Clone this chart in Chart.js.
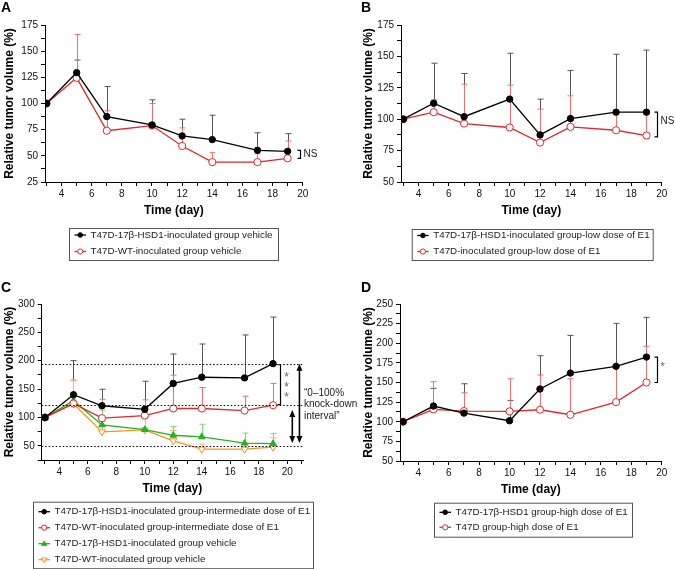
<!DOCTYPE html>
<html lang="en">
<head>
<meta charset="UTF-8">
<title>Relative tumor volume</title>
<script src="https://cdn.jsdelivr.net/npm/chart.js"></script>
<style>
    body { margin: 0; background: #fff; }
    #page { position: relative; width: 675px; height: 569px; overflow: hidden; font-family: "Liberation Sans", Arial, sans-serif; }
    .panel { position: absolute; }
    .letter { position: absolute; font-weight: bold; font-size: 14px; line-height: 14px; color: #000; }
</style>
</head>
<body>
<div id="page">
    <div class="panel" style="left:0;top:0"><canvas id="chartA" width="340" height="270"></canvas></div>
    <div class="panel" style="left:340px;top:0"><canvas id="chartB" width="335" height="270"></canvas></div>
    <div class="panel" style="left:0;top:280px"><canvas id="chartC" width="360" height="289"></canvas></div>
    <div class="panel" style="left:340px;top:280px"><canvas id="chartD" width="335" height="289"></canvas></div>
    <div class="letter" style="left:1px;top:0">A</div>
    <div class="letter" style="left:361px;top:0">B</div>
    <div class="letter" style="left:1px;top:280px">C</div>
    <div class="letter" style="left:361px;top:280px">D</div>
</div>
<script>
// ---- data ----
const days = [3, 5, 7, 10, 12, 14, 17, 19];
const xTickLabels = [4, 6, 8, 10, 12, 14, 16, 18, 20];

// A: vehicle
const aHsd1Veh    = [100, 129.5, 87.5, 79.5, 69, 65.5, 55.3, 54.3];
const aHsd1VehTop = [null, 141.5, 116.2, 103.5, 85, 88.8, 72, 71.2];
const aWtVeh      = [100, 124.5, 74, 78.9, 59.4, 44, 44, 47.6];
const aWtVehTop   = [null, 166, 93, 100, 76.7, 53, 52, 64.2];
const aYTicks = [25, 50, 75, 100, 125, 150, 175];

// B: low dose of E1
const bHsd1Low    = [100, 112.7, 102, 116, 87.5, 100.5, 105.6, 105.6];
const bHsd1LowTop = [null, 144.6, 136.4, 152.5, 116, 138.7, 151.7, 155];
const bWtLow      = [100, 105.6, 96.5, 93.4, 81.4, 93.9, 91.2, 87];
const bWtLowTop   = [null, 115.4, 127.9, 127.1, 108, 118.6, 105, 104];
const bYTicks = [50, 75, 100, 125, 150, 175];

// C: intermediate dose of E1 + vehicle
const cHsd1Mid    = [100, 140, 120.6, 114.4, 160, 170.9, 169.7, 194.9];
const cHsd1MidTop = [null, 200.2, 149.7, 163.8, 211.9, 229.5, 245.4, 277];
const cWtMid      = [100, 124.6, 98.7, 103.4, 115.8, 115.8, 112.2, 121.6];
const cWtMidTop   = [null, 165.5, 132, 131, 174.5, 152.8, 137.5, 159.8];
const cHsd1Veh    = [100, 129.6, 86.8, 78.6, 68.6, 65.7, 54.6, 54];
const cHsd1VehTop = [null, 142, 113, 101.6, 84, 88, 72.5, 71.5];
const cWtVeh      = [100, 124, 74.6, 78, 58.8, 44, 44, 47.6];
const cWtVehTop   = [null, 166, 93, 100, 77, 53, 52, 64];
const cYTicks = [50, 100, 150, 200, 250, 300];
const cLevels = [194.9, 121.6, 50.2];   // dotted reference lines

// D: high dose of E1
const dHsd1High    = [100, 120, 111, 101.3, 141.7, 162, 170.6, 182.4];
const dHsd1HighTop = [null, 142.5, 148.4, 127.2, 184.1, 210, 225.3, 233];
const dWtHigh      = [100, 115.7, 113.6, 113.2, 115.3, 108.9, 125, 150];
const dWtHighTop   = [null, 151, 137, 154.8, 159.5, 154.8, 170, 196];
const dYTicks = [50, 75, 100, 125, 150, 175, 200, 225, 250];

const FONT = '"Liberation Sans", Arial, sans-serif';
const RED = '#e3262b', GREEN = '#22b322', ORANGE = '#f7931e';

function pts(vals) {
    return days.map((d, i) => ({ x: d, y: vals[i] }));
}

// series style presets
function blackSeries(label, vals, top) {
    return { label, data: pts(vals), errTop: top, errColor: '#555',
        borderColor: '#000', backgroundColor: '#000', pointStyle: 'circle',
        pointRadius: 3.2, pointBackgroundColor: '#000', pointBorderColor: '#000', pointBorderWidth: 1 };
}
function redSeries(label, vals, top) {
    return { label, data: pts(vals), errTop: top, errColor: '#ee7070',
        borderColor: RED, backgroundColor: RED, pointStyle: 'circle',
        pointRadius: 3.6, pointBackgroundColor: '#fff', pointBorderColor: RED, pointBorderWidth: 1 };
}
function greenSeries(label, vals, top) {
    return { label, data: pts(vals), errTop: top, errColor: '#7fd67f',
        borderColor: GREEN, backgroundColor: GREEN, pointStyle: 'triangle',
        pointRadius: 3.8, pointBackgroundColor: GREEN, pointBorderColor: GREEN, pointBorderWidth: 1 };
}
function orangeSeries(label, vals, top) {
    return { label, data: pts(vals), errTop: top, errColor: '#f8b56e',
        borderColor: ORANGE, backgroundColor: ORANGE, pointStyle: 'triangle', pointRotation: 180,
        pointRadius: 4, pointBackgroundColor: '#fff', pointBorderColor: ORANGE, pointBorderWidth: 1 };
}

// small marker for the boxed legend
function drawMarker(ctx, ds, x, y, k) {
    const r = ds.pointRadius * k;
    ctx.save();
    ctx.fillStyle = ds.pointBackgroundColor;
    ctx.strokeStyle = ds.pointBorderColor;
    ctx.lineWidth = 1;
    ctx.beginPath();
    if (ds.pointStyle === 'circle') {
        ctx.arc(x, y, r, 0, Math.PI * 2);
    } else {
        const s = ds.pointRotation === 180 ? -1 : 1;
        ctx.moveTo(x, y - s * r);
        ctx.lineTo(x + r * 0.95, y + s * r * 0.6);
        ctx.lineTo(x - r * 0.95, y + s * r * 0.6);
        ctx.closePath();
    }
    ctx.fill();
    ctx.stroke();
    ctx.restore();
}

// upper error bars
const errBars = {
    id: 'errBars',
    beforeDatasetsDraw(chart) {
        const ctx = chart.ctx, xs = chart.scales.x, ys = chart.scales.y;
        ctx.save();
        ctx.lineWidth = 1;
        chart.data.datasets.forEach(ds => {
            if (!ds.errTop) return;
            ctx.strokeStyle = ds.errColor;
            ds.data.forEach((p, j) => {
                const top = ds.errTop[j];
                if (top == null) return;
                const x = Math.round(xs.getPixelForValue(p.x)) + 0.5;
                const y0 = ys.getPixelForValue(p.y), y1 = ys.getPixelForValue(top);
                ctx.beginPath();
                ctx.moveTo(x, y0); ctx.lineTo(x, y1);
                ctx.moveTo(x - 3, y1); ctx.lineTo(x + 3, y1);
                ctx.stroke();
            });
        });
        ctx.restore();
    }
};

// boxed legend under each plot
const boxLegend = {
    id: 'boxLegend',
    afterDraw(chart, args, o) {
        const ctx = chart.ctx;
        ctx.save();
        ctx.strokeStyle = '#555';
        ctx.lineWidth = 1;
        ctx.strokeRect(o.x + 0.5, o.y + 0.5, o.w, o.h);
        ctx.font = '9.8px ' + FONT;
        ctx.textBaseline = 'middle';
        chart.data.datasets.forEach((ds, i) => {
            const y = o.y + o.first + i * o.step;
            ctx.strokeStyle = ds.borderColor;
            ctx.lineWidth = 1.3;
            ctx.beginPath();
            ctx.moveTo(o.x + 5.5, y); ctx.lineTo(o.x + 17, y);
            ctx.stroke();
            drawMarker(ctx, ds, o.x + 11.2, y, 0.72);
            ctx.fillStyle = '#222';
            ctx.fillText(ds.label, o.x + 21.5, y);
        });
        ctx.restore();
    }
};

// significance brackets, dotted lines, arrows, notes
const marks = {
    id: 'marks',
    afterDatasetsDraw(chart, args, o) {
        const ctx = chart.ctx, xs = chart.scales.x, ys = chart.scales.y, ca = chart.chartArea;
        ctx.save();
        (o.levels || []).forEach(v => {
            const y = Math.round(ys.getPixelForValue(v)) + 0.5;
            ctx.strokeStyle = '#000'; ctx.lineWidth = 1; ctx.setLineDash([1.5, 2]);
            ctx.beginPath(); ctx.moveTo(ca.left, y); ctx.lineTo(ca.right, y); ctx.stroke();
        });
        ctx.setLineDash([]);
        if (o.bracket) {
            const b = o.bracket;
            const x = Math.round(xs.getPixelForValue(b.at)) + b.dx + 0.5;
            const y0 = ys.getPixelForValue(b.from), y1 = ys.getPixelForValue(b.to);
            ctx.strokeStyle = b.color; ctx.lineWidth = 1.2;
            ctx.beginPath();
            ctx.moveTo(x - 3, y0); ctx.lineTo(x, y0); ctx.lineTo(x, y1); ctx.lineTo(x - 3, y1);
            ctx.stroke();
            ctx.fillStyle = b.textColor;
            ctx.textBaseline = 'middle';
            if (b.stack) {
                ctx.font = '12px ' + FONT;
                ctx.textAlign = 'center';
                const n = b.text.length, mid = (y0 + y1) / 2;
                b.text.split('').forEach((c, k) => ctx.fillText(c, x + 6, mid + (k - (n - 1) / 2) * 10 + 3));
            } else {
                ctx.font = (b.size || 10) + 'px ' + FONT;
                ctx.textAlign = 'left';
                ctx.fillText(b.text, x + 3, (y0 + y1) / 2 + b.dy);
            }
        }
        (o.arrows || []).forEach(a => {
            const x = xs.getPixelForValue(a.at);
            const y0 = ys.getPixelForValue(a.from), y1 = ys.getPixelForValue(a.to);
            ctx.strokeStyle = '#000'; ctx.fillStyle = '#000'; ctx.lineWidth = 1.6;
            ctx.beginPath(); ctx.moveTo(x, y0 + 5); ctx.lineTo(x, y1 - 5); ctx.stroke();
            ctx.beginPath(); ctx.moveTo(x, y0); ctx.lineTo(x - 3, y0 + 7); ctx.lineTo(x + 3, y0 + 7); ctx.closePath(); ctx.fill();
            ctx.beginPath(); ctx.moveTo(x, y1); ctx.lineTo(x - 3, y1 - 7); ctx.lineTo(x + 3, y1 - 7); ctx.closePath(); ctx.fill();
        });
        if (o.note) {
            ctx.fillStyle = '#222'; ctx.font = '10px ' + FONT;
            ctx.textAlign = 'left'; ctx.textBaseline = 'middle';
            o.note.lines.forEach((t, k) => ctx.fillText(t, o.note.x, o.note.y + k * 11.6));
        }
        ctx.restore();
    }
};

function withMinors(majors, min, max) {
    const step = majors[1] - majors[0];
    const all = majors.slice();
    majors.forEach(v => all.push(v - step / 2));
    all.push(majors[majors.length - 1] + step / 2);
    return all.filter(v => v >= min - 1e-6 && v <= max + 1e-6).sort((a, b) => a - b);
}

function makeChart(id, datasets, c) {
    const xAll = withMinors(xTickLabels, c.xMin, c.xMax);
    const yAll = withMinors(c.yTicks, c.yMin, c.yMax);
    const tickFont = { family: FONT, size: 10 };
    const titleFont = { family: FONT, size: 12, weight: 'bold' };
    return new Chart(document.getElementById(id), {
        type: 'line',
        data: { datasets },
        options: {
            responsive: false,
            animation: false,
            events: [],
            layout: { padding: c.padding },
            elements: { line: { borderWidth: 1.3, tension: 0 } },
            scales: {
                x: {
                    type: 'linear', min: c.xMin, max: c.xMax,
                    afterBuildTicks: s => { s.ticks = xAll.map(v => ({ value: v })); },
                    afterFit: s => { s.height = 40; },
                    ticks: { autoSkip: false, maxRotation: 0, padding: 2, color: '#111', font: tickFont,
                        callback: v => xTickLabels.includes(v) ? String(v) : '' },
                    grid: { drawOnChartArea: false, tickLength: 4, tickColor: '#000' },
                    border: { color: '#000', width: 1 },
                    title: { display: true, text: 'Time (day)', color: '#000', font: titleFont, padding: { top: 4, bottom: 4 } }
                },
                y: {
                    type: 'linear', min: c.yMin, max: c.yMax,
                    afterBuildTicks: s => { s.ticks = yAll.map(v => ({ value: v })); },
                    afterFit: s => { s.width = c.yWidth; },
                    ticks: { autoSkip: false, padding: 3, color: '#111', font: tickFont,
                        callback: v => c.yTicks.includes(v) ? String(v) : '' },
                    grid: { drawOnChartArea: false, tickLength: 4, tickColor: '#000' },
                    border: { color: '#000', width: 1 },
                    title: { display: true, text: 'Relative tumor volume (%)', color: '#000', font: titleFont, padding: { top: 2, bottom: 2 } }
                }
            },
            plugins: {
                legend: { display: false },
                tooltip: { enabled: false },
                boxLegend: c.legend,
                marks: c.marks || {}
            }
        },
        plugins: [errBars, marks, boxLegend]
    });
}

const last = a => a[a.length - 1];

makeChart('chartA', [
    blackSeries('T47D-17\u03B2-HSD1-inoculated group vehicle', aHsd1Veh, aHsd1VehTop),
    redSeries('T47D-WT-inoculated group vehicle', aWtVeh, aWtVehTop)
], {
    xMin: 2.9, xMax: 20, yMin: 25, yMax: 175, yTicks: aYTicks, yWidth: 45,
    padding: { left: 0, top: 25, right: 37.3, bottom: 48 },
    legend: { x: 69, y: 228, w: 209, h: 32, first: 7, step: 16.5 },
    marks: { bracket: { at: 19, dx: 12, from: last(aHsd1Veh) + 1, to: last(aWtVeh), color: '#000', textColor: '#222', text: 'NS', dy: 0 } }
});

makeChart('chartB', [
    blackSeries('T47D-17\u03B2-HSD1-inoculated group-low dose of E1', bHsd1Low, bHsd1LowTop),
    redSeries('T47D-inoculated group-low dose of E1', bWtLow, bWtLowTop)
], {
    xMin: 2.85, xMax: 20, yMin: 50, yMax: 175, yTicks: bYTicks, yWidth: 42,
    padding: { left: 19, top: 25, right: 13.3, bottom: 48 },
    legend: { x: 71.7, y: 229, w: 241, h: 31, first: 6.5, step: 16 },
    marks: { bracket: { at: 19, dx: 11, from: last(bHsd1Low), to: last(bWtLow) - 1, color: '#000', textColor: '#222', text: 'NS', dy: -3 } }
});

makeChart('chartC', [
    blackSeries('T47D-17\u03B2-HSD1-inoculated group-intermediate dose of E1', cHsd1Mid, cHsd1MidTop),
    redSeries('T47D-WT-inoculated group-intermediate dose of E1', cWtMid, cWtMidTop),
    greenSeries('T47D-17\u03B2-HSD1-inoculated group vehicle', cHsd1Veh, cHsd1VehTop),
    orangeSeries('T47D-WT-inoculated group vehicle', cWtVeh, cWtVehTop)
], {
    xMin: 2.77, xMax: 21.1, yMin: 25, yMax: 300, yTicks: cYTicks, yWidth: 41.7,
    padding: { left: 0, top: 24, right: 57, bottom: 69 },
    legend: { x: 33, y: 221.7, w: 280, h: 66.5, first: 10, step: 16 },
    marks: {
        levels: cLevels,
        bracket: { at: 19, dx: 7, from: cLevels[0] - 2, to: cLevels[1] + 1, color: '#000', textColor: '#666', text: '***', stack: true },
        arrows: [{ at: 20.35, from: 113, to: 55 }, { at: 20.85, from: 194.5, to: 55 }],
        note: { x: 304, y: 113, lines: ['\u201C0\u2013100%', 'knock-down', 'interval\u201D'] }
    }
});

makeChart('chartD', [
    blackSeries('T47D-17\u03B2-HSD1 group-high dose of E1', dHsd1High, dHsd1HighTop),
    redSeries('T47D group-high dose of E1', dWtHigh, dWtHighTop)
], {
    xMin: 2.8, xMax: 20, yMin: 50, yMax: 250, yTicks: dYTicks, yWidth: 41,
    padding: { left: 19, top: 24, right: 13.3, bottom: 68 },
    legend: { x: 94, y: 222.7, w: 198, h: 34, first: 9.6, step: 15 },
    marks: { bracket: { at: 19, dx: 11, from: last(dHsd1High), to: last(dWtHigh), color: '#000', textColor: '#666', text: '*', size: 11, dy: -3 } }
});
</script>
</body>
</html>
